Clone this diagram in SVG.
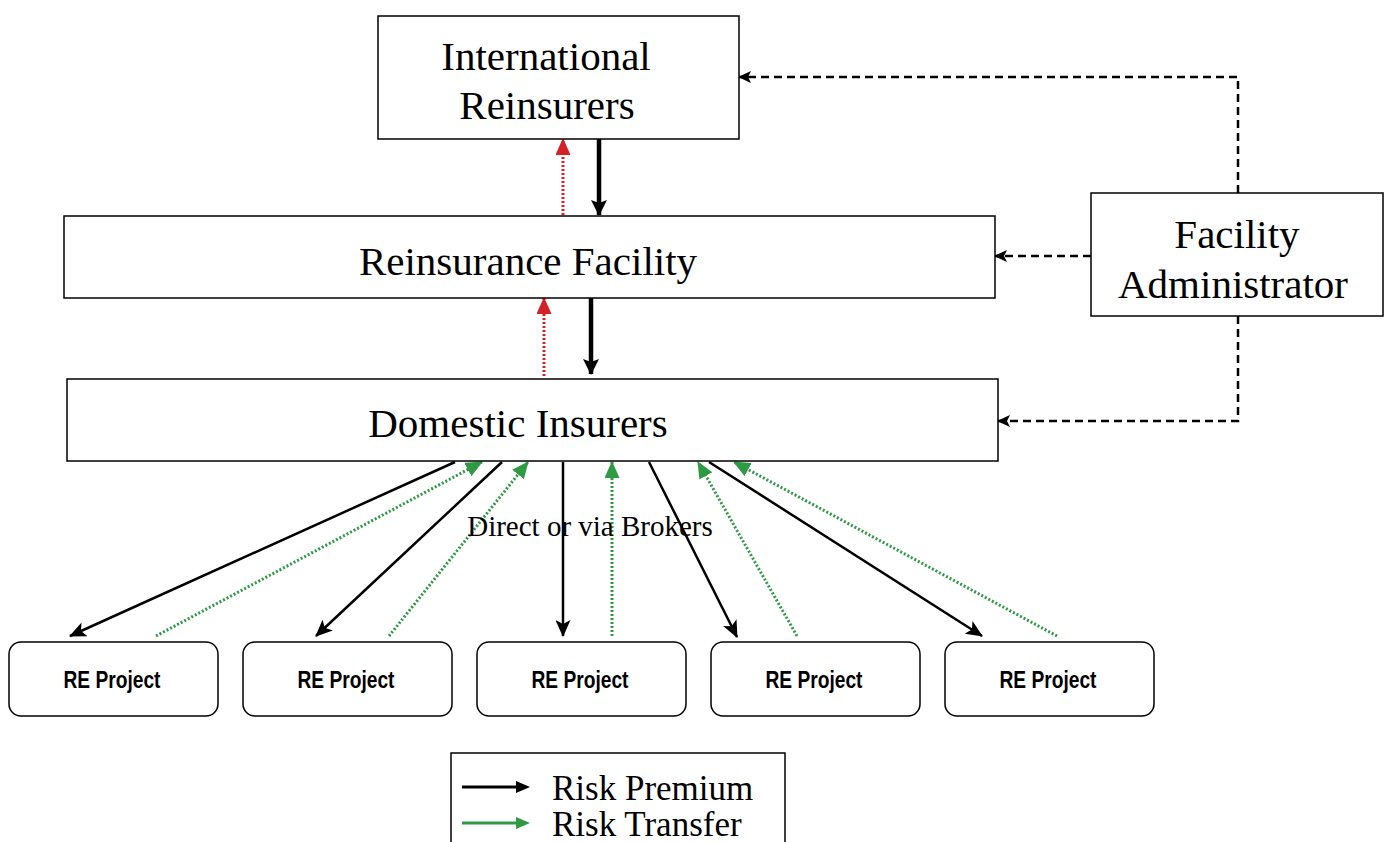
<svg xmlns="http://www.w3.org/2000/svg" width="1386" height="842" viewBox="0 0 1386 842">
<defs>
<style>
.box{fill:#fff;stroke:#000;stroke-width:1.5}
.proj{fill:#fff;stroke:#000;stroke-width:1.5}
.t{font-family:"Liberation Serif","Times New Roman",serif;font-size:41px;fill:#000;text-anchor:middle}
.p{font-family:"Liberation Sans",Arial,sans-serif;font-size:23px;font-weight:bold;fill:#000;text-anchor:middle}
.blk{stroke:#000;stroke-width:2.5;fill:none;marker-end:url(#ab)}
.thk{stroke:#000;stroke-width:4.5;fill:none;marker-end:url(#at)}
.grn{stroke:#2e9a44;stroke-width:3;stroke-dasharray:2 2;fill:none;marker-end:url(#ag)}
.red{stroke:#d42027;stroke-width:3;stroke-dasharray:2 2;fill:none;marker-end:url(#ar)}
.dsh{stroke:#000;stroke-width:2.5;stroke-dasharray:8 5;fill:none;marker-end:url(#ad)}
</style>
<marker id="ab" markerUnits="userSpaceOnUse" markerWidth="17" markerHeight="15" refX="16" refY="7.5" orient="auto"><path d="M0,0 L17,7.5 L0,15 L4,7.5 Z" fill="#000"/></marker>
<marker id="at" markerUnits="userSpaceOnUse" markerWidth="16" markerHeight="16" refX="15" refY="8" orient="auto"><path d="M0,0 L16,8 L0,16 L3,8 Z" fill="#000"/></marker>
<marker id="ag" markerUnits="userSpaceOnUse" markerWidth="17" markerHeight="15" refX="16" refY="7.5" orient="auto"><path d="M0,0 L17,7.5 L0,15 Z" fill="#2e9a44"/></marker>
<marker id="ar" markerUnits="userSpaceOnUse" markerWidth="17" markerHeight="15" refX="16" refY="7.5" orient="auto"><path d="M0,0 L17,7.5 L0,15 Z" fill="#d42027"/></marker>
<marker id="ad" markerUnits="userSpaceOnUse" markerWidth="13" markerHeight="12" refX="12" refY="6" orient="auto"><path d="M0,0 L13,6 L0,12 L3,6 Z" fill="#000"/></marker>
</defs>
<rect width="1386" height="842" fill="#fff"/>

<g id="connectors">
<path class="red" d="M563,215 V139"/>
<path class="thk" d="M599,139 V215"/>
<path class="red" d="M544,376 V298"/>
<path class="thk" d="M591,298 V374"/>
<path class="dsh" d="M1238,193 V77 H739"/>
<path class="dsh" d="M1091,256 H995"/>
<path class="dsh" d="M1238,316 V421 H998"/>
<path class="blk" d="M455,462 L70,636"/>
<path class="blk" d="M502,462 L316,636"/>
<path class="blk" d="M563,462 V636"/>
<path class="blk" d="M649,462 L737,637"/>
<path class="blk" d="M709,462 L982,636"/>
<path class="grn" d="M156,636 L482,462"/>
<path class="grn" d="M389,636 L528,462"/>
<path class="grn" d="M612,636 V462"/>
<path class="grn" d="M797,636 L698,462"/>
<path class="grn" d="M1057,636 L734,462"/>
</g>

<g id="intl-reinsurers">
<rect class="box" x="378" y="16" width="361" height="123"/>
<text class="t" x="546" y="70">International</text>
<text class="t" x="547" y="119">Reinsurers</text>
</g>
<g id="reinsurance-facility">
<rect class="box" x="64" y="216" width="931" height="82"/>
<text class="t" x="528" y="275">Reinsurance Facility</text>
</g>
<g id="domestic-insurers">
<rect class="box" x="67" y="379" width="931" height="82"/>
<text class="t" x="518" y="437">Domestic Insurers</text>
</g>
<g id="facility-administrator">
<rect class="box" x="1091" y="193" width="292" height="123"/>
<text class="t" x="1237" y="248">Facility</text>
<text class="t" x="1233" y="298">Administrator</text>
</g>

<text x="590" y="536" font-family="Liberation Serif, Times New Roman, serif" font-size="29" text-anchor="middle">Direct or via Brokers</text>

<g id="re-project-1"><rect class="proj" x="9" y="642" width="209" height="74" rx="12"/><text class="p" x="112" y="688" textLength="97" lengthAdjust="spacingAndGlyphs">RE Project</text></g>
<g id="re-project-2"><rect class="proj" x="243" y="642" width="209" height="74" rx="12"/><text class="p" x="346" y="688" textLength="97" lengthAdjust="spacingAndGlyphs">RE Project</text></g>
<g id="re-project-3"><rect class="proj" x="477" y="642" width="209" height="74" rx="12"/><text class="p" x="580" y="688" textLength="97" lengthAdjust="spacingAndGlyphs">RE Project</text></g>
<g id="re-project-4"><rect class="proj" x="711" y="642" width="209" height="74" rx="12"/><text class="p" x="814" y="688" textLength="97" lengthAdjust="spacingAndGlyphs">RE Project</text></g>
<g id="re-project-5"><rect class="proj" x="945" y="642" width="209" height="74" rx="12"/><text class="p" x="1048" y="688" textLength="97" lengthAdjust="spacingAndGlyphs">RE Project</text></g>

<g id="legend">
<rect class="box" x="451" y="753" width="334" height="100"/>
<path d="M462,787 H516" stroke="#000" stroke-width="3"/>
<path d="M516,781 L530,787 L516,793 Z" fill="#000"/>
<path d="M462,823 H516" stroke="#2e9a44" stroke-width="3"/>
<path d="M516,817 L530,823 L516,829 Z" fill="#2e9a44"/>
<text x="552" y="800" font-family="Liberation Serif, Times New Roman, serif" font-size="35">Risk Premium</text>
<text x="552" y="836" font-family="Liberation Serif, Times New Roman, serif" font-size="35">Risk Transfer</text>
</g>
</svg>
